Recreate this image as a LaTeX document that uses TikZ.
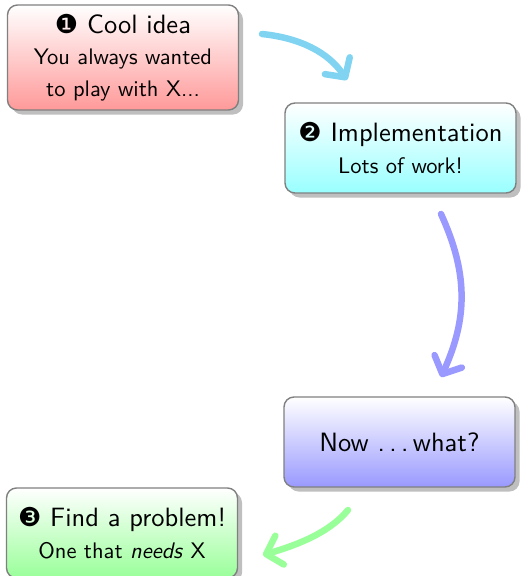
\documentclass[tikz,border=0pt]{standalone}
\usepackage{fontspec}
\setmainfont{lmsans10-regular.otf}[ItalicFont=lmsans10-oblique.otf,BoldFont=lmsans10-bold.otf]
\newfontfamily\dingfont{DejaVu Sans}
\usetikzlibrary{shadows,arrows.meta}
\definecolor{arrowcyan}{RGB}{128,212,242}
\newcommand\boxtitle[1]{{\fontsize{26.5}{31.5}\selectfont #1}}
\newcommand\dg[1]{{\dingfont\fontsize{26}{31.5}\selectfont #1}}
\newcommand\spdots{.\kern\fontdimen3\font.\kern\fontdimen3\font.\kern\fontdimen3\font}
\tikzset{
  box/.style={rectangle, rounded corners=10pt, draw=black!50, line width=1.4pt,
    minimum width=231pt, minimum height=90pt, align=center, inner sep=0pt,
    font=\fontsize{22.5}{31.5}\selectfont,
    drop shadow={shadow xshift=4.5pt, shadow yshift=-4.5pt, fill=black!25, opacity=1}},
  flow/.style={line width=6.5pt, line cap=round,
    -{Straight Barb[round,length=14pt,width=30pt]}}
}
\begin{document}
\begin{tikzpicture}[x=1pt,y=-1pt]
\useasboundingbox (0,0) rectangle (520,576);
\node[box, minimum height=105pt, top color=white, bottom color=red!40] (idea) at (123,57.5)
  {\boxtitle{\dg{❶} Cool idea}\\You always wanted\\to play with X...};
\node[box, top color=white, bottom color=cyan!40] (impl) at (400.5,148)
  {\boxtitle{\dg{❷} Implementation}\\Lots of work!};
\node[box, top color=white, bottom color=blue!40] (what) at (399.5,442)
  {\boxtitle{Now \spdots what?}};
\node[box, top color=white, bottom color=green!40] (prob) at (122,533)
  {\boxtitle{\dg{❸} Find a problem!}\\One that \emph{needs} X};
\coordinate (a1s) at (262,34);
\coordinate (a1e) at (347,80);
\coordinate (a2s) at (441,214);
\coordinate (a2e) at (441,377);
\coordinate (a3s) at (348,510);
\coordinate (a3e) at (263,555);
\draw[flow, arrowcyan] (a1s) .. controls +(38,4) and +(-19,-28) .. (a1e);
\draw[flow, blue!40] (a2s) .. controls +(27,59) and +(27,-59) .. (a2e);
\draw[flow, green!40] (a3s) .. controls +(-19,23) and +(34,-10) .. (a3e);
\end{tikzpicture}
\end{document}
